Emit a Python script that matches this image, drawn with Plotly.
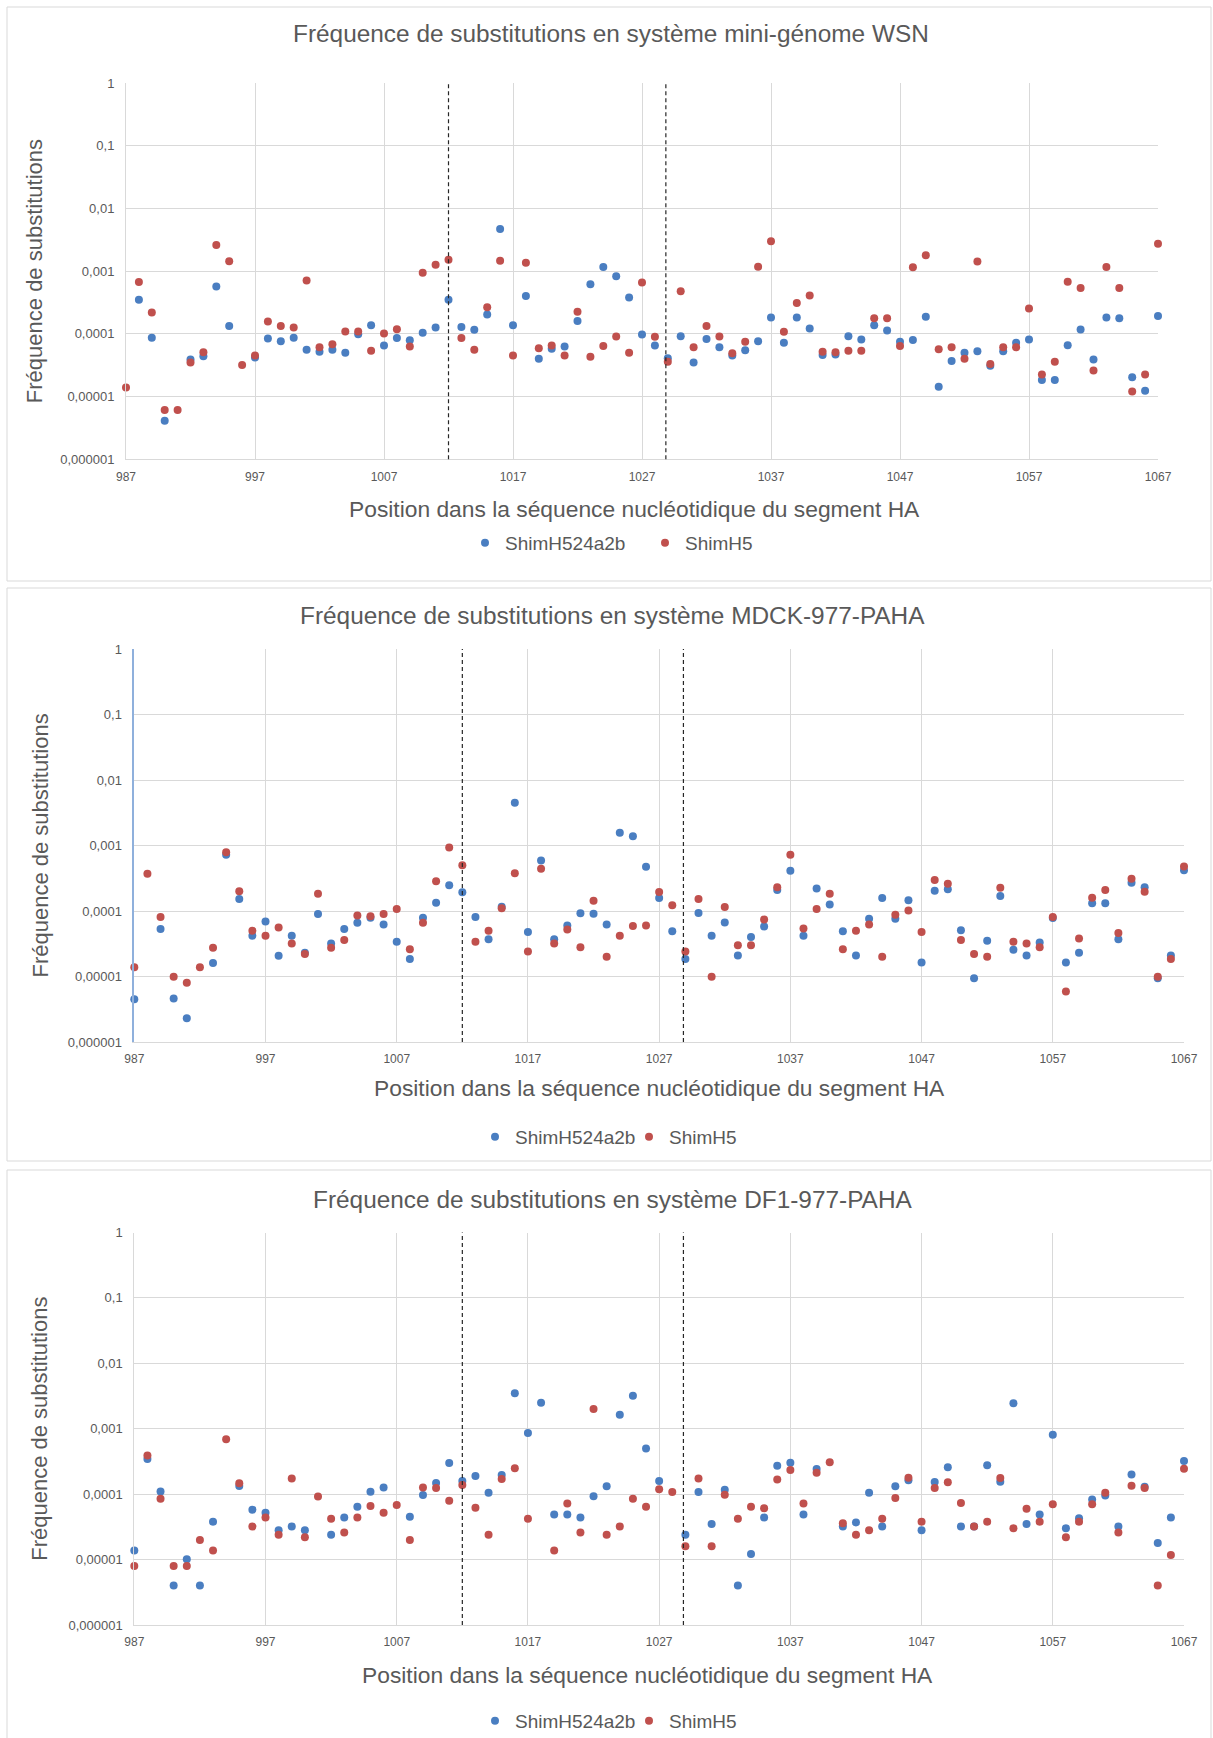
import plotly.graph_objects as go

W, H = 1213, 1738

positions = list(range(987, 1068))

# Substitution frequencies per position, ShimH524a2b (blue) and ShimH5 (red)
wsn_h524 = [None, 3.5e-4, 8.7e-5, 4.1e-6, None, 3.9e-5, 4.4e-5, 5.7e-4, 1.34e-4, None,
            4.2e-5, 8.4e-5, 7.6e-5, 8.7e-5, 5.6e-5, 5.2e-5, 5.6e-5, 5.0e-5, 9.9e-5, 1.37e-4,
            6.5e-5, 8.6e-5, 7.9e-5, 1.04e-4, 1.26e-4, 3.5e-4, 1.29e-4, 1.16e-4, 2.03e-4, 4.7e-3,
            1.37e-4, 4.0e-4, 4.0e-5, 5.8e-5, 6.3e-5, 1.61e-4, 6.2e-4, 1.16e-3, 8.3e-4, 3.8e-4,
            9.8e-5, 6.5e-5, 4.1e-5, 9.2e-5, 3.5e-5, 8.3e-5, 6.1e-5, 4.5e-5, 5.5e-5, 7.6e-5,
            1.82e-4, 7.2e-5, 1.82e-4, 1.22e-4, 4.6e-5, 4.7e-5, 9.2e-5, 8.1e-5, 1.37e-4, 1.13e-4,
            7.5e-5, 8.0e-5, 1.87e-4, 1.43e-5, 3.7e-5, 5.0e-5, 5.3e-5, 3.1e-5, 5.3e-5, 7.2e-5,
            8.1e-5, 1.83e-5, 1.83e-5, 6.6e-5, 1.17e-4, 3.9e-5, 1.82e-4, 1.77e-4, 2.04e-5, 1.24e-5,
            1.93e-4]
wsn_h5 = [1.4e-5, 6.7e-4, 2.2e-4, 6.1e-6, 6.1e-6, 3.5e-5, 5.1e-5, 2.6e-3, 1.44e-3, 3.2e-5,
          4.5e-5, 1.57e-4, 1.34e-4, 1.26e-4, 7.1e-4, 6.1e-5, 6.8e-5, 1.09e-4, 1.09e-4, 5.4e-5,
          1.01e-4, 1.19e-4, 6.3e-5, 9.4e-4, 1.27e-3, 1.52e-3, 8.6e-5, 5.6e-5, 2.65e-4, 1.47e-3,
          4.5e-5, 1.36e-3, 5.9e-5, 6.5e-5, 4.5e-5, 2.26e-4, 4.3e-5, 6.4e-5, 9.1e-5, 5.0e-5,
          6.6e-4, 9.0e-5, 3.6e-5, 4.8e-4, 6.1e-5, 1.34e-4, 9.1e-5, 4.9e-5, 7.5e-5, 1.18e-3,
          3.0e-3, 1.08e-4, 3.1e-4, 4.1e-4, 5.2e-5, 5.1e-5, 5.4e-5, 5.4e-5, 1.77e-4, 1.77e-4,
          6.4e-5, 1.15e-3, 1.79e-3, 5.7e-5, 6.1e-5, 4.0e-5, 1.42e-3, 3.3e-5, 6.1e-5, 6.1e-5,
          2.53e-4, 2.25e-5, 3.6e-5, 6.8e-4, 5.4e-4, 2.6e-5, 1.16e-3, 5.4e-4, 1.21e-5, 2.25e-5,
          2.74e-3]

mdck_h524 = [4.5e-6, None, 5.3e-5, 4.6e-6, 2.3e-6, None, 1.61e-5, 7.2e-4, 1.52e-4, 4.2e-5,
             6.9e-5, 2.08e-5, 4.2e-5, 2.3e-5, 9.0e-5, 3.2e-5, 5.3e-5, 6.6e-5, 7.9e-5, 6.2e-5,
             3.4e-5, 1.85e-5, 7.9e-5, 1.34e-4, 2.47e-4, 1.93e-4, 8.1e-5, 3.7e-5, 1.16e-4, 4.5e-3,
             4.8e-5, 5.9e-4, 3.7e-5, 6.0e-5, 9.2e-5, 9.1e-5, 6.2e-5, 1.57e-3, 1.38e-3, 4.75e-4,
             1.58e-4, 4.9e-5, 1.85e-5, 9.3e-5, 4.2e-5, 6.7e-5, 2.1e-5, 4.0e-5, 5.8e-5, 2.1e-4,
             4.1e-4, 4.2e-5, 2.2e-4, 1.26e-4, 4.9e-5, 2.1e-5, 7.6e-5, 1.58e-4, 7.6e-5, 1.46e-4,
             1.63e-5, 2.04e-4, 2.14e-4, 5.1e-5, 9.4e-6, 3.5e-5, 1.69e-4, 2.57e-5, 2.1e-5, 3.3e-5,
             7.8e-5, 1.63e-5, 2.3e-5, 1.31e-4, 1.31e-4, 3.7e-5, 2.7e-4, 2.3e-4, 9.4e-6, 2.1e-5,
             4.2e-4]
mdck_h5 = [1.38e-5, 3.7e-4, 8.1e-5, 9.9e-6, 8.0e-6, 1.38e-5, 2.75e-5, 7.9e-4, 2.0e-4, 5.0e-5,
           4.2e-5, 5.6e-5, 3.2e-5, 2.2e-5, 1.84e-4, 2.75e-5, 3.6e-5, 8.5e-5, 8.3e-5, 9.0e-5,
           1.07e-4, 2.6e-5, 6.6e-5, 2.84e-4, 9.3e-4, 5.0e-4, 3.4e-5, 5.0e-5, 1.1e-4, 3.76e-4,
           2.4e-5, 4.4e-4, 3.2e-5, 5.2e-5, 2.8e-5, 1.44e-4, 2.0e-5, 4.2e-5, 5.9e-5, 6.0e-5,
           1.95e-4, 1.22e-4, 2.4e-5, 1.52e-4, 9.9e-6, 1.15e-4, 3.0e-5, 3.0e-5, 7.4e-5, 2.3e-4,
           7.2e-4, 5.4e-5, 1.07e-4, 1.84e-4, 2.6e-5, 5.0e-5, 6.2e-5, 2.0e-5, 8.8e-5, 1.02e-4,
           4.8e-5, 2.97e-4, 2.6e-4, 3.6e-5, 2.2e-5, 2.0e-5, 2.27e-4, 3.4e-5, 3.2e-5, 2.8e-5,
           8.1e-5, 5.9e-6, 3.8e-5, 1.6e-4, 2.1e-4, 4.6e-5, 3.1e-4, 1.97e-4, 9.9e-6, 1.85e-5,
           4.8e-4]

df1_h524 = [1.38e-5, 3.45e-4, 1.1e-4, 4.0e-6, 1.01e-5, 4.0e-6, 3.8e-5, None, 1.33e-4, 5.8e-5,
            5.2e-5, 2.8e-5, 3.2e-5, 2.8e-5, None, 2.4e-5, 4.4e-5, 6.4e-5, 1.09e-4, 1.26e-4,
            None, 4.5e-5, 9.7e-5, 1.48e-4, 3.0e-4, 1.59e-4, 1.9e-4, 1.05e-4, 1.96e-4, 3.5e-3,
            8.6e-4, 2.5e-3, 4.9e-5, 4.9e-5, 4.4e-5, 9.3e-5, 1.32e-4, 1.64e-3, 3.2e-3, 5.0e-4,
            1.59e-4, None, 2.4e-5, 1.08e-4, 3.5e-5, 1.17e-4, 4.0e-6, 1.22e-5, 4.4e-5, 2.73e-4,
            3.03e-4, 4.9e-5, 2.43e-4, None, 3.2e-5, 3.7e-5, 1.05e-4, 3.2e-5, 1.32e-4, 1.63e-4,
            2.8e-5, 1.53e-4, 2.57e-4, 3.2e-5, 3.2e-5, 2.76e-4, 1.55e-4, 2.45e-3, 3.5e-5, 4.9e-5,
            8.1e-4, 3.0e-5, 4.3e-5, 8.3e-5, 9.5e-5, 3.2e-5, 2.0e-4, 1.3e-4, 1.8e-5, 4.4e-5,
            3.2e-4]
df1_h5 = [8.0e-6, 3.9e-4, 8.5e-5, 8.0e-6, 8.0e-6, 2.0e-5, 1.38e-5, 6.9e-4, 1.47e-4, 3.2e-5,
          4.4e-5, 2.4e-5, 1.73e-4, 2.2e-5, 9.2e-5, 4.2e-5, 2.6e-5, 4.4e-5, 6.6e-5, 5.2e-5,
          6.8e-5, 2.0e-5, 1.27e-4, 1.24e-4, 7.9e-5, 1.38e-4, 6.2e-5, 2.4e-5, 1.7e-4, 2.5e-4,
          4.2e-5, None, 1.38e-5, 7.2e-5, 2.6e-5, 2.0e-3, 2.4e-5, 3.2e-5, 8.5e-5, 6.4e-5,
          1.19e-4, 1.08e-4, 1.6e-5, 1.73e-4, 1.6e-5, 9.8e-5, 4.2e-5, 6.4e-5, 6.1e-5, 1.67e-4,
          2.34e-4, 7.2e-5, 2.13e-4, 3.07e-4, 3.6e-5, 2.4e-5, 2.8e-5, 4.2e-5, 8.7e-5, 1.79e-4,
          3.8e-5, 1.24e-4, 1.52e-4, 7.3e-5, 3.2e-5, 3.8e-5, 1.77e-4, 3.0e-5, 6.0e-5, 3.8e-5,
          7.0e-5, 2.2e-5, 3.8e-5, 7.0e-5, 1.05e-4, 2.6e-5, 1.35e-4, 1.24e-4, 4.0e-6, 1.17e-5,
          2.45e-4]

series_names = ["ShimH524a2b", "ShimH5"]
x_ticks = list(range(987, 1068, 10))
y_ticks = [1e-6, 1e-5, 1e-4, 1e-3, 1e-2, 1e-1, 1]
y_tick_text = ["0,000001", "0,00001", "0,0001", "0,001", "0,01", "0,1", "1"]
region_bounds = [1012, 1028.85]

BLUE = "#4a7ec1"
RED = "#c0504d"
GRID = "#d9d9d9"
TEXT = "#595959"
FONT = "Liberation Sans, Arial, sans-serif"


def px(x):
    return x / W


def py(y):
    return 1 - y / H


panels = [
    dict(title="Fréquence de substitutions en système mini-génome WSN",
         data=(wsn_h524, wsn_h5),
         plot=(126, 1158, 83, 459.3), box=(7, 7, 1211, 581),
         title_xy=(611, 34), xtitle_xy=(634, 509), legend_xy=(465, 543), entry_w=135,
         ytitle_x=34, axis_color=GRID),
    dict(title="Fréquence de substitutions en système MDCK-977-PAHA",
         data=(mdck_h524, mdck_h5),
         plot=(134.3, 1184, 649, 1042), box=(7, 588, 1211, 1161),
         title_xy=(612, 615), xtitle_xy=(659, 1088), legend_xy=(475, 1137), entry_w=109,
         ytitle_x=40, axis_color="#8fb0dc"),
    dict(title="Fréquence de substitutions en système DF1-977-PAHA",
         data=(df1_h524, df1_h5),
         plot=(134.3, 1184, 1232.5, 1625), box=(7, 1170, 1211, 1760),
         title_xy=(612, 1199), xtitle_xy=(647, 1675), legend_xy=(475, 1721), entry_w=109,
         ytitle_x=40, axis_color=GRID),
]

fig = go.Figure()
shapes = []
annotations = []
layout = dict(width=W, height=H,
              margin=dict(l=0, r=0, t=0, b=0, pad=0, autoexpand=False),
              paper_bgcolor="white", plot_bgcolor="white", showlegend=True)

for i, p in enumerate(panels, start=1):
    sfx = "" if i == 1 else str(i)
    legend_id = "legend" + sfx
    x0, x1, yt, yb = p["plot"]

    for name, vals, color in zip(series_names, p["data"], [BLUE, RED]):
        fig.add_trace(go.Scatter(
            x=positions, y=vals, mode="markers", name=name,
            marker=dict(color=color, size=8),
            cliponaxis=False, xaxis="x" + sfx, yaxis="y" + sfx,
            legend=legend_id,
        ))

    layout["xaxis" + sfx] = dict(
        domain=[px(x0), px(x1)], anchor="y" + sfx, range=[987, 1067],
        tickvals=x_ticks, ticks="", showgrid=True, gridcolor=GRID, gridwidth=1,
        showline=True, linecolor=GRID, linewidth=1, zeroline=False, automargin=False,
        tickfont=dict(family=FONT, size=12, color=TEXT), ticklabelstandoff=6,
    )
    layout["yaxis" + sfx] = dict(
        domain=[py(yb), py(yt)], anchor="x" + sfx, type="log", range=[-6, 0],
        tickvals=y_ticks, ticktext=y_tick_text, ticks="", showgrid=True,
        gridcolor=GRID, gridwidth=1, showline=True, linecolor=p["axis_color"],
        linewidth=1.5 if i == 2 else 1, zeroline=False, automargin=False,
        tickfont=dict(family=FONT, size=13, color=TEXT), ticklabelstandoff=8,
    )
    layout[legend_id] = dict(
        orientation="h", x=px(p["legend_xy"][0]), xanchor="left",
        y=py(p["legend_xy"][1]), yanchor="middle", bgcolor="rgba(0,0,0,0)",
        font=dict(family=FONT, size=19, color=TEXT), itemwidth=30,
        entrywidth=p["entry_w"], entrywidthmode="pixels",
    )

    # chart frame
    bx0, by0, bx1, by1 = p["box"]
    shapes.append(dict(type="rect", xref="paper", yref="paper",
                       x0=px(bx0), x1=px(bx1), y0=py(by1), y1=py(by0),
                       line=dict(color=GRID, width=1), fillcolor="rgba(0,0,0,0)",
                       layer="below"))
    # region boundaries
    for xb in region_bounds:
        shapes.append(dict(type="line", xref="x" + sfx, yref="y" + sfx + " domain",
                           x0=xb, x1=xb, y0=0, y1=1,
                           line=dict(color="#262626", width=1.2, dash="4px,3px")))

    annotations.append(dict(text=p["title"], xref="paper", yref="paper",
                            x=px(p["title_xy"][0]), y=py(p["title_xy"][1]),
                            xanchor="center", yanchor="middle", showarrow=False,
                            font=dict(family=FONT, size=24.4, color=TEXT)))
    annotations.append(dict(text="Position dans la séquence nucléotidique du segment HA",
                            xref="paper", yref="paper",
                            x=px(p["xtitle_xy"][0]), y=py(p["xtitle_xy"][1]),
                            xanchor="center", yanchor="middle", showarrow=False,
                            font=dict(family=FONT, size=22.8, color=TEXT)))
    annotations.append(dict(text="Fréquence de substitutions", xref="paper", yref="paper",
                            x=px(p["ytitle_x"]), y=py((yt + yb) / 2), textangle=-90,
                            xanchor="center", yanchor="middle", showarrow=False,
                            font=dict(family=FONT, size=22, color=TEXT)))

layout["shapes"] = shapes
layout["annotations"] = annotations
fig.update_layout(**layout)

fig.write_html("out.html")
